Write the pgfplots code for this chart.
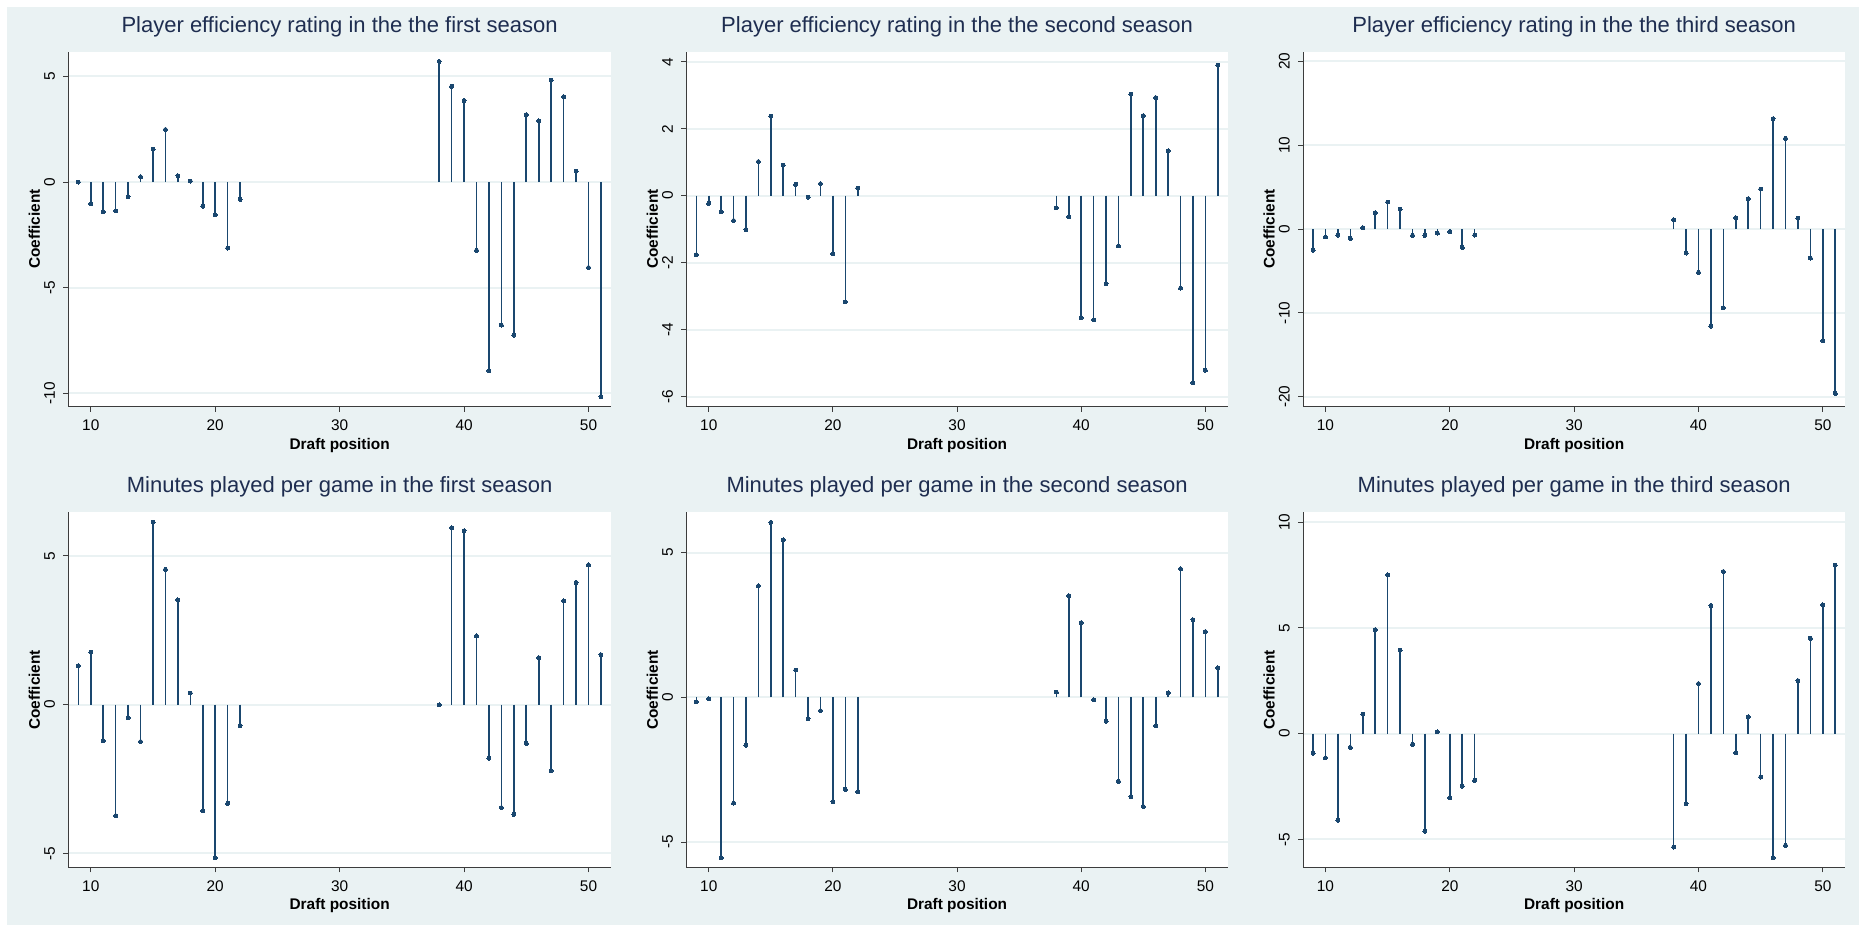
\documentclass[border=0pt]{standalone}
\usepackage{fontspec}
\setmainfont{Liberation Sans}
\usepackage{pgfplots}
\pgfplotsset{compat=1.18}
\definecolor{bgc}{RGB}{234,242,243}
\definecolor{stem}{RGB}{26,71,111}
\definecolor{ttl}{RGB}{30,45,80}
\definecolor{axc}{RGB}{60,60,60}
\pgfplotsset{stata/.style={
  scale only axis, height=177.5pt, anchor=south west,
  xmin=8.2, xmax=51.8,
  axis x line*=bottom, axis y line*=left,
  axis line style={-, draw=axc, line width=0.6pt},
  axis background/.style={fill=white},
  tick align=outside, major tick length=2.5pt,
  tick style={draw=axc, line width=0.5pt},
  xtick={10,20,30,40,50}, xticklabels={10,20,30,40,50},
  ymajorgrids, grid style={draw=bgc, line width=1pt},
  ticklabel style={font=\fontsize{7.7pt}{9pt}\selectfont, text=black, inner sep=0pt},
  xticklabel style={anchor=base}, xticklabel shift=9.4pt,
  yticklabel style={rotate=90, anchor=base}, yticklabel shift=4.3pt,
  title style={at={(0.5,1)}, anchor=base, yshift=3.7pt, font=\fontsize{11pt}{13pt}\selectfont, text=ttl},
  xlabel={Draft position}, ylabel={Coefficient},
  label style={font=\fontsize{7.7pt}{9pt}\selectfont\bfseries, text=black, inner sep=0pt},
  xlabel style={at={(axis description cs:0.5,0)}, anchor=base, yshift=-21.2pt},
  ylabel style={at={(axis description cs:-0.0525,0.5)}, anchor=base},
},
stemplot/.style={ycomb, draw=stem, line width=0.8pt, mark=*, mark size=1pt, mark options={fill=stem, draw=stem, line width=0pt}}}
\begin{document}
\begin{tikzpicture}
\fill[white] (0pt,0pt) rectangle (929.5pt,463.5pt);
\fill[bgc] (3.5pt,1pt) rectangle (929.5pt,460pt);
% Row 1
\begin{axis}[stata, at={(34.2pt,260.15pt)}, width=271.25pt,
  title={Player efficiency rating in the the first season},
  ymin=-10.63, ymax=6.17, ytick={-10,-5,0,5}, yticklabels={-10,-5,0,5}]
\addplot[stemplot] coordinates {(9,0)(10,-1.03)(11,-1.40)(12,-1.36)(13,-0.69)(14,0.25)(15,1.55)(16,2.49)(17,0.30)(18,0.05)(19,-1.14)(20,-1.55)(21,-3.12)(22,-0.82)(38,5.71)(39,4.53)(40,3.86)(41,-3.23)(42,-8.94)(43,-6.77)(44,-7.24)(45,3.19)(46,2.90)(47,4.83)(48,4.04)(49,0.52)(50,-4.04)(51,-10.16)};
\end{axis}
\begin{axis}[stata, at={(343.2pt,260.15pt)}, width=270.65pt,
  title={Player efficiency rating in the the second season},
  ymin=-6.30, ymax=4.30, ytick={-6,-4,-2,0,2,4}, yticklabels={-6,-4,-2,0,2,4}]
\addplot[stemplot] coordinates {(9,-1.76)(10,-0.23)(11,-0.48)(12,-0.74)(13,-1.01)(14,1.02)(15,2.37)(16,0.91)(17,0.34)(18,-0.04)(19,0.36)(20,-1.74)(21,-3.17)(22,0.23)(38,-0.36)(39,-0.63)(40,-3.64)(41,-3.71)(42,-2.63)(43,-1.50)(44,3.03)(45,2.39)(46,2.93)(47,1.34)(48,-2.76)(49,-5.59)(50,-5.21)(51,3.90)};
\end{axis}
\begin{axis}[stata, at={(651.55pt,260.15pt)}, width=271.05pt,
  title={Player efficiency rating in the the third season},
  ymin=-21.19, ymax=21.15, ytick={-20,-10,0,10,20}, yticklabels={-20,-10,0,10,20}]
\addplot[stemplot] coordinates {(9,-2.54)(10,-0.95)(11,-0.72)(12,-1.11)(13,0.16)(14,1.95)(15,3.22)(16,2.35)(17,-0.76)(18,-0.76)(19,-0.48)(20,-0.32)(21,-2.19)(22,-0.72)(38,1.11)(39,-2.86)(40,-5.17)(41,-11.57)(42,-9.38)(43,1.35)(44,3.62)(45,4.77)(46,13.16)(47,10.82)(48,1.27)(49,-3.46)(50,-13.32)(51,-19.60)};
\end{axis}
% Row 2
\begin{axis}[stata, at={(34.2pt,29.85pt)}, width=271.25pt,
  title={Minutes played per game in the first season},
  ymin=-5.47, ymax=6.47, ytick={-5,0,5}, yticklabels={-5,0,5}]
\addplot[stemplot] coordinates {(9,1.31)(10,1.76)(11,-1.21)(12,-3.73)(13,-0.44)(14,-1.24)(15,6.13)(16,4.55)(17,3.52)(18,0.39)(19,-3.57)(20,-5.15)(21,-3.32)(22,-0.70)(38,-0.01)(39,5.95)(40,5.85)(41,2.31)(42,-1.80)(43,-3.46)(44,-3.69)(45,-1.30)(46,1.58)(47,-2.22)(48,3.49)(49,4.11)(50,4.70)(51,1.68)};
\end{axis}
\begin{axis}[stata, at={(343.2pt,29.85pt)}, width=270.65pt,
  title={Minutes played per game in the second season},
  ymin=-5.87, ymax=6.39, ytick={-5,0,5}, yticklabels={-5,0,5}]
\addplot[stemplot] coordinates {(9,-0.16)(10,-0.05)(11,-5.54)(12,-3.65)(13,-1.65)(14,3.85)(15,6.04)(16,5.44)(17,0.94)(18,-0.74)(19,-0.46)(20,-3.60)(21,-3.18)(22,-3.26)(38,0.18)(39,3.51)(40,2.58)(41,-0.08)(42,-0.83)(43,-2.90)(44,-3.43)(45,-3.77)(46,-0.98)(47,0.15)(48,4.44)(49,2.68)(50,2.27)(51,1.02)};
\end{axis}
\begin{axis}[stata, at={(651.55pt,29.85pt)}, width=271.05pt,
  title={Minutes played per game in the third season},
  ymin=-6.32, ymax=10.47, ytick={-5,0,5,10}, yticklabels={-5,0,5,10}]
\addplot[stemplot] coordinates {(9,-0.93)(10,-1.14)(11,-4.10)(12,-0.65)(13,0.93)(14,4.92)(15,7.51)(16,3.94)(17,-0.50)(18,-4.61)(19,0.08)(20,-3.03)(21,-2.48)(22,-2.21)(38,-5.36)(39,-3.31)(40,2.37)(41,6.06)(42,7.67)(43,-0.90)(44,0.80)(45,-2.05)(46,-5.87)(47,-5.28)(48,2.51)(49,4.51)(50,6.09)(51,7.97)};
\end{axis}
\end{tikzpicture}
\end{document}
